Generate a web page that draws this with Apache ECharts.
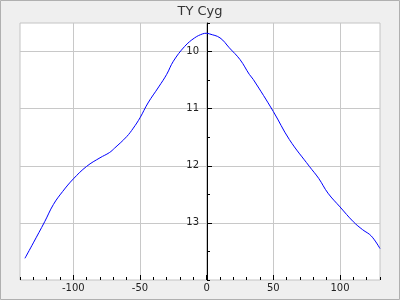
<!DOCTYPE html>
<html>
<head>
<meta charset="utf-8">
<script src="https://cdn.jsdelivr.net/npm/echarts@6/dist/echarts.min.js"></script>
<style>
html,body{margin:0;padding:0;background:#efefef;}
#chart{width:400px;height:300px;}
</style>
</head>
<body>
<div id="chart"></div>
<script>
const titleText = 'TY Cyg';
const phase = [-136.3, -130, -121.5, -115, -108, -100, -90, -80, -73, -69, -60, -55, -50, -44, -36, -30, -25, -16.5, -9, -3, 0, 2, 10, 17, 25, 32, 35, 50, 62, 77, 84, 91, 100, 110, 117, 123.5, 130];
const mag = [13.62, 13.35, 12.98, 12.68, 12.45, 12.23, 12.01, 11.86, 11.77, 11.69, 11.49, 11.34, 11.16, 10.90, 10.62, 10.40, 10.17, 9.91, 9.76, 9.69, 9.68, 9.69, 9.76, 9.935, 10.14, 10.40, 10.49, 11.05, 11.54, 12.01, 12.22, 12.48, 12.72, 12.98, 13.12, 13.23, 13.45];
const xTicks = [-100, -50, 0, 50, 100];
const yTicks = [10, 11, 12, 13];

const seriesData = phase.map((p, i) => [p, mag[i]]);
const font = 'DejaVu Sans';
const gridLeft = 20, gridRight = 20, xMin = -140, xMax = 130;
const zeroOffset = -Math.round((0 - xMin) / (xMax - xMin) * (400 - gridLeft - gridRight));
const chart = echarts.init(document.getElementById('chart'), null, {renderer: 'canvas'});
chart.setOption({
  backgroundColor: '#efefef',
  animation: false,
  title: {
    text: titleText, left: 'center', top: 0,
    textStyle: {fontFamily: font, fontSize: 13, fontWeight: 'normal', color: '#333'}
  },
  graphic: [{
    type: 'rect', z: 100, silent: true,
    shape: {x: 0.5, y: 0.5, width: 399, height: 299},
    style: {fill: 'none', stroke: '#b0b0b0', lineWidth: 1}
  }],
  grid: {
    left: gridLeft, right: gridRight, top: 23, bottom: 20,
    show: true, backgroundColor: '#fff', borderColor: '#c4c4c4', borderWidth: 1
  },
  xAxis: [{
    type: 'value', min: xMin, max: xMax, position: 'bottom',
    axisLine: {show: false, onZero: false},
    axisTick: {show: true, inside: true, length: 5, customValues: xTicks, lineStyle: {color: '#000'}},
    axisLabel: {customValues: xTicks, margin: 3, fontFamily: font, fontSize: 10, color: '#222'},
    splitLine: {show: true, lineStyle: {color: '#c8c8c8', width: 1}}
  }, {
    type: 'value', min: xMin, max: xMax, interval: 10, position: 'bottom',
    axisLine: {show: false, onZero: false},
    axisTick: {show: true, inside: true, length: 3, lineStyle: {color: '#000'}},
    axisLabel: {show: false},
    splitLine: {show: false}
  }],
  yAxis: [{
    type: 'value', min: 9.5, max: 14, inverse: true, position: 'left', offset: zeroOffset,
    axisLine: {show: true, onZero: false, lineStyle: {color: '#000', width: 1}},
    axisTick: {show: true, inside: true, length: 5, customValues: yTicks, lineStyle: {color: '#000'}},
    axisLabel: {customValues: yTicks, margin: 8, fontFamily: font, fontSize: 10, color: '#222'},
    splitLine: {show: true, lineStyle: {color: '#c8c8c8', width: 1}}
  }, {
    type: 'value', min: 9.5, max: 14, interval: 0.5, inverse: true, position: 'left', offset: zeroOffset,
    axisLine: {show: false, onZero: false},
    axisTick: {show: true, inside: true, length: 3, lineStyle: {color: '#000'}},
    axisLabel: {show: false},
    splitLine: {show: false}
  }],
  series: [{
    type: 'line', xAxisIndex: 0, yAxisIndex: 0,
    data: seriesData, showSymbol: false, symbol: 'none', smooth: 0.4,
    lineStyle: {color: '#0000ff', width: 1}
  }]
});
</script>
</body>
</html>
